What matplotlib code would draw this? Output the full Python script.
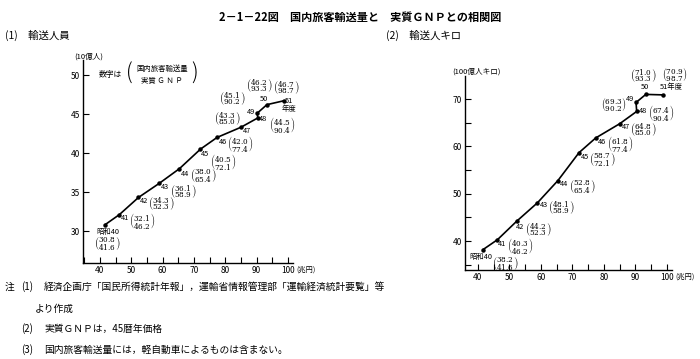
import matplotlib
matplotlib.use("Agg")
import matplotlib.pyplot as plt
from matplotlib.ticker import MultipleLocator

plt.rcParams['font.family'] = ['Noto Sans CJK JP', 'DejaVu Sans']
plt.rcParams['mathtext.fontset'] = 'dejavuserif'

# 年度と実質GNP (兆円)
nendo = ["昭和40", "41", "42", "43", "44", "45", "46", "47", "48", "49", "50", "51\n年度"]
nendo_r = ["昭和40", "41", "42", "43", "44", "45", "46", "47", "48", "49", "50", "51年度"]
gnp = [41.6, 46.2, 52.3, 58.9, 65.4, 72.1, 77.4, 85.0, 90.4, 90.2, 93.3, 98.7]
# 輸送人員 (10億人)
jinin = [30.8, 32.1, 34.3, 36.1, 38.0, 40.5, 42.0, 43.3, 44.5, 45.1, 46.2, 46.7]
# 輸送人キロ (100億人キロ)
jinkiro = [38.2, 40.3, 44.2, 48.1, 52.8, 58.7, 61.8, 64.8, 67.4, 69.3, 71.0, 70.9]

W, H = 700, 359
fig = plt.figure(figsize=(7, 3.59), dpi=100)


def px(x, y):
    return x / W, 1 - y / H


# ラベルの位置 (ピクセル, 点からのずれ)
off_year_l = [(3, 7), (6, 3), (6, 4), (6, 4), (6, 5), (5, 5), (6, 5), (6, 4), (5, 1), (-6, -1), (-3, -6), (5, 4)]
off_par_l = [(2, 19), (23, 6), (23, 6), (24, 8), (24, 7), (23, 13), (23, 7), (-14, -9), (24, 7), (-25, -15), (-8, -19), (3, -13)]
off_year_r = [(-2, 7), (5, 4), (3, 6), (6, 2), (6, 3), (6, 4), (6, 4), (6, 3), (6, 0), (-6, -3), (-1, -7), (9, -8)]
off_par_r = [(22, 14), (23, 6), (22, 8), (24, 5), (24, 6), (23, 7), (24, 6), (24, 6), (24, 2), (-22, 2), (-2, -19), (12, -20)]


def make_axes(rect_px, xlim, ylim, ymaj, ymin):
    x0, y0, w, h = rect_px
    l, b = px(x0, y0)
    ax = fig.add_axes([l, b, w / W, h / H])
    ax.set_xlim(*xlim)
    ax.set_ylim(*ylim)
    for s in ["top", "right"]:
        ax.spines[s].set_visible(False)
    for s in ["left", "bottom"]:
        ax.spines[s].set_linewidth(1.0)
    ax.set_xticks(range(40, 101, 10))
    ax.set_xticklabels([str(v) for v in range(40, 101, 10)])
    ax.xaxis.set_minor_locator(MultipleLocator(5))
    ax.yaxis.set_major_locator(MultipleLocator(ymaj))
    if ymin:
        ax.yaxis.set_minor_locator(MultipleLocator(ymin))
    ax.tick_params(which="both", direction="in", length=4, width=0.8, labelsize=6, pad=2)
    ax.annotate("(兆円)", (100, ylim[0]), xytext=(6, -2), textcoords="offset points",
                fontsize=5.2, va="top", ha="left", annotation_clip=False)
    return ax


def draw(ax, y, yearlab, off_y, off_p):
    ax.plot(gnp, y, color="black", lw=1.2, marker="o", ms=2.2, clip_on=False)
    k = 72 / 100
    for i in range(len(gnp)):
        dx, dy = off_y[i]
        ax.annotate(yearlab[i], (gnp[i], y[i]), xytext=(dx * k, -dy * k), textcoords="offset points",
                    ha="center", va="center", fontsize=5.3, linespacing=1.0)
        num = f"{y[i]:.1f}"
        den = f"{gnp[i]:.1f}"
        dx, dy = off_p[i]
        ax.annotate(r"$\genfrac{(}{)}{0}{0}{%s}{%s}$" % (num, den), (gnp[i], y[i]),
                    xytext=(dx * k, -dy * k), textcoords="offset points",
                    ha="center", va="center", fontsize=5.2)


# (1) 輸送人員
ax1 = make_axes((83, 263, 67 * 3.133, 26 * 7.8), (34.6, 101.6), (25.9, 51.9), 5, None)
draw(ax1, jinin, nendo, off_year_l, off_par_l)

# (2) 輸送人キロ
ax2 = make_axes((465, 270, 65.6 * 3.15, 41 * 4.733), (35.9, 101.5), (33.9, 74.9), 10, 5)
draw(ax2, jinkiro, nendo_r, off_year_r, off_par_r)

# 文字
fig.text(*px(360, 17), "2－1－22図　国内旅客輸送量と　実質ＧＮＰとの相関図",
         ha="center", va="center", fontsize=8, fontweight="bold")
fig.text(*px(5, 35), "(1)　輸送人員", ha="left", va="center", fontsize=7.5)
fig.text(*px(386, 35), "(2)　輸送人キロ", ha="left", va="center", fontsize=7.5)
fig.text(*px(89, 57), "(10億人)", ha="center", va="center", fontsize=5.5)
fig.text(*px(476, 72), "(100億人キロ)", ha="center", va="center", fontsize=5.5)

fig.text(*px(99, 75), "数字は", ha="left", va="center", fontsize=5.6)
fig.text(*px(129, 74), "(", ha="center", va="center", fontsize=15, fontweight="light")
fig.text(*px(162, 69), "国内旅客輸送量", ha="center", va="center", fontsize=5.3)
fig.text(*px(162, 81), "実質 Ｇ Ｎ Ｐ", ha="center", va="center", fontsize=5.3)
fig.text(*px(195, 74), ")", ha="center", va="center", fontsize=15, fontweight="light")

fig.text(*px(5, 287), "注", ha="left", va="center", fontsize=7)
notes = [
    ("(1)", "経済企画庁「国民所得統計年報」，運輸省情報管理部「運輸経済統計要覧」等", 287),
    ("", "より作成", 309),
    ("(2)", "実質ＧＮＰは，45暦年価格", 329),
    ("(3)", "国内旅客輸送量には，軽自動車によるものは含まない。", 350),
]
for num, txt, yy in notes:
    if num:
        fig.text(*px(21, yy), num, ha="left", va="center", fontsize=7)
    fig.text(*px(44 if num else 35, yy), txt, ha="left", va="center", fontsize=7)

fig.savefig("out.png", dpi=100)
